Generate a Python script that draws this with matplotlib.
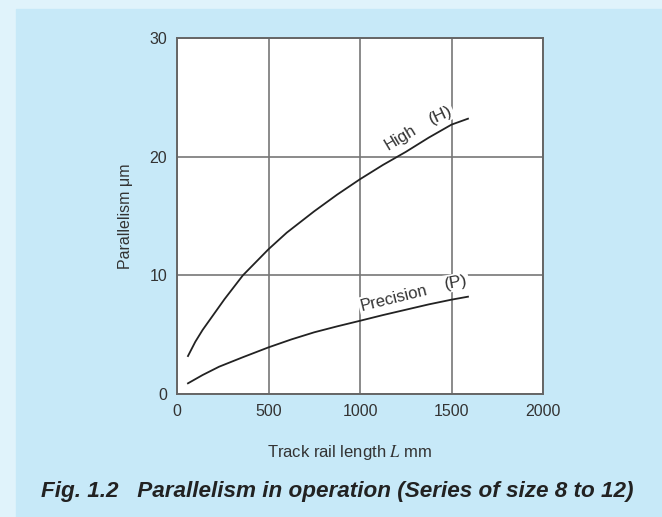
import matplotlib.pyplot as plt
from matplotlib.patches import Rectangle

plt.rcParams['font.family'] = ['Liberation Sans', 'DejaVu Sans']
plt.rcParams['mathtext.fontset'] = 'stix'

# values
high_len = [60, 100, 140, 200, 260, 360, 430, 500, 600, 750, 875, 1000,
            1125, 1250, 1375, 1500, 1590]
high = [3.2, 4.4, 5.4, 6.7, 8.0, 10.0, 11.1, 12.2, 13.6, 15.4, 16.8, 18.1,
        19.3, 20.4, 21.6, 22.7, 23.2]
prec_len = [60, 140, 230, 360, 500, 625, 750, 875, 1000, 1125, 1250, 1375,
            1500, 1590]
precision = [0.9, 1.6, 2.3, 3.1, 3.93, 4.6, 5.2, 5.7, 6.17, 6.65, 7.1, 7.55,
             7.95, 8.2]

x_ticks = [0, 500, 1000, 1500, 2000]
y_ticks = [0, 10, 20, 30]

fig = plt.figure(figsize=(6.62, 5.17), dpi=100, facecolor='#e0f3fb')
fig.add_artist(Rectangle((16 / 662, 0), 1, (517 - 9) / 517,
                         transform=fig.transFigure, color='#c7e9f8', zorder=-5))

ax = fig.add_axes([177 / 662, 1 - 394 / 517, (543 - 177) / 662, (394 - 38) / 517])
ax.set_facecolor('white')
ax.set_xlim(0, 2000)
ax.set_ylim(0, 30)
ax.set_xticks(x_ticks)
ax.set_yticks(y_ticks)
ax.tick_params(length=0, labelsize=11.5, labelcolor='#333333', pad=7)
ax.grid(True, color='#777777', linewidth=1.2)
ax.set_axisbelow(True)
for s in ax.spines.values():
    s.set_color('#666666')
    s.set_linewidth(1.4)

ax.plot(high_len, high, color='#222222', linewidth=1.3)
ax.plot(prec_len, precision, color='#222222', linewidth=1.3)

box = dict(facecolor='white', edgecolor='none', pad=1)
ax.text(1221, 21.6, 'High', rotation=31, ha='center', va='center', fontsize=12,
        color='#333333', bbox=box)
ax.text(1440, 23.5, '(H)', rotation=25, ha='center', va='center', fontsize=12.5,
        color='#333333', bbox=box)
ax.text(1183, 8.1, 'Precision', rotation=14, ha='center', va='center', fontsize=12,
        color='#333333', bbox=box)
ax.text(1525, 9.4, '(P)', rotation=10, ha='center', va='center', fontsize=12.5,
        color='#333333', bbox=box)

ax.set_ylabel('Parallelism μm', fontsize=11.5, color='#333333', labelpad=12)
fig.text(350 / 662, 1 - 452 / 517,
         'Track rail length $L$ mm', ha='center', va='center',
         fontsize=12, color='#333333')

fig.text(337 / 662, 1 - 491 / 517,
         'Fig. 1.2   Parallelism in operation (Series of size 8 to 12)',
         ha='center', va='center', fontsize=16.2, fontweight='bold',
         fontstyle='italic', color='#222222')

plt.savefig('out.png', dpi=100, facecolor=fig.get_facecolor())
